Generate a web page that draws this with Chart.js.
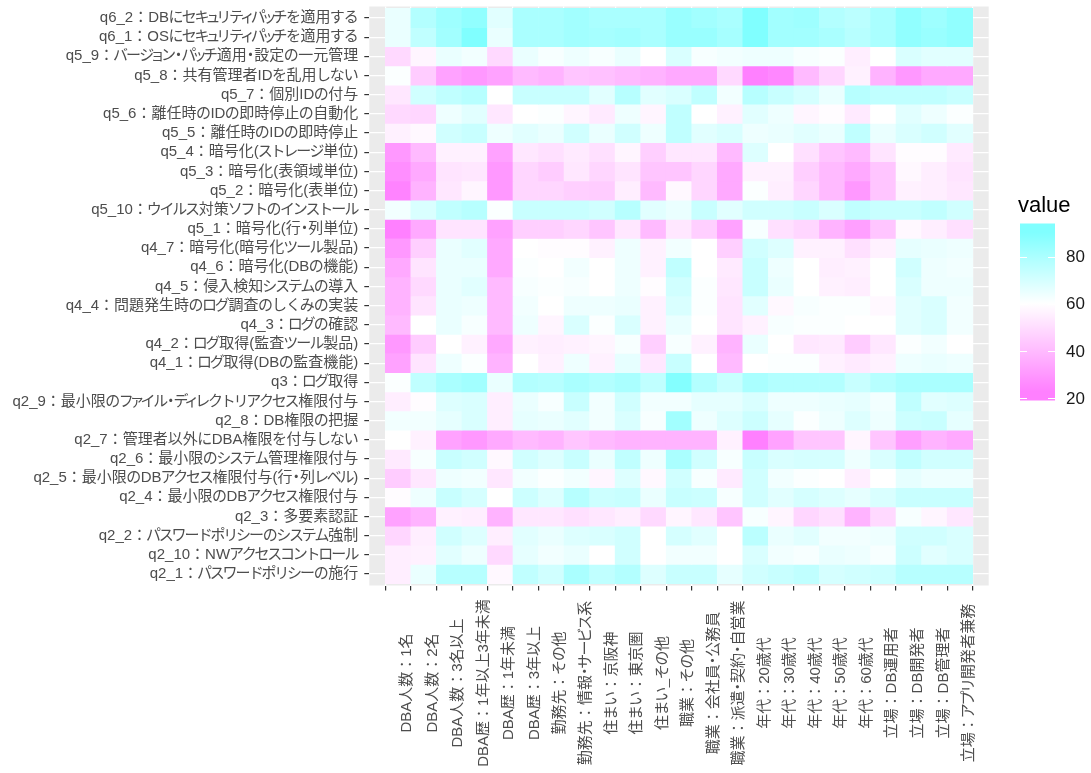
<!DOCTYPE html>
<html>
<head>
<meta charset="utf-8">
<script src="https://cdn.jsdelivr.net/npm/chart.js@4.4.1/dist/chart.umd.min.js"></script>
<style>
  html, body { margin: 0; padding: 0; background: #ffffff; }
  #wrap { width: 1091px; height: 773px; }
</style>
</head>
<body>
<div id="wrap"><canvas id="heat" width="1091" height="773"></canvas></div>
<script>
// Measures (rows, listed top to bottom as drawn)
const rowLabels = [
  "q6_2：DBにセキュリティパッチを適用する",
  "q6_1：OSにセキュリティパッチを適用する",
  "q5_9：バージョン・パッチ適用・設定の一元管理",
  "q5_8：共有管理者IDを乱用しない",
  "q5_7：個別IDの付与",
  "q5_6：離任時のIDの即時停止の自動化",
  "q5_5：離任時のIDの即時停止",
  "q5_4：暗号化(ストレージ単位)",
  "q5_3：暗号化(表領域単位)",
  "q5_2：暗号化(表単位)",
  "q5_10：ウイルス対策ソフトのインストール",
  "q5_1：暗号化(行・列単位)",
  "q4_7：暗号化(暗号化ツール製品)",
  "q4_6：暗号化(DBの機能)",
  "q4_5：侵入検知システムの導入",
  "q4_4：問題発生時のログ調査のしくみの実装",
  "q4_3：ログの確認",
  "q4_2：ログ取得(監査ツール製品)",
  "q4_1：ログ取得(DBの監査機能)",
  "q3：ログ取得",
  "q2_9：最小限のファイル・ディレクトリアクセス権限付与",
  "q2_8：DB権限の把握",
  "q2_7：管理者以外にDBA権限を付与しない",
  "q2_6：最小限のシステム管理権限付与",
  "q2_5：最小限のDBアクセス権限付与(行・列レベル)",
  "q2_4：最小限のDBアクセス権限付与",
  "q2_3：多要素認証",
  "q2_2：パスワードポリシーのシステム強制",
  "q2_10：NWアクセスコントロール",
  "q2_1：パスワードポリシーの施行"
];

// Respondent groups (columns)
const colLabels = [
  "DBA人数：1名", "DBA人数：2名", "DBA人数：3名以上",
  "DBA歴：1年以上3年未満", "DBA歴：1年未満", "DBA歴：3年以上",
  "勤務先：その他", "勤務先：情報・サービス系",
  "住まい：京阪神", "住まい：東京圏", "住まい_その他",
  "職業：その他", "職業：会社員・公務員", "職業：派遣・契約・自営業",
  "年代：20歳代", "年代：30歳代", "年代：40歳代", "年代：50歳代", "年代：60歳代",
  "立場：DB運用者", "立場：DB開発者", "立場：DB管理者", "立場：アプリ開発者兼務"
];

// Score per group, one array per measure
const q6_2  = [65,78,83,86,67,80,80,82,80,80,80,84, 82,80,90,82,83,78,76,80,86,83,86];
const q6_1  = [65,75,82,94,65,80,80,82,81,82,80,84, 84,81,93,82,82,80,77,80,86,84,86];
const q5_9  = [49,57,65,63,49,65,62,64,62,65,60,69, 62,63,64,64,62,61,55,60,69,67,67];
const q5_8  = [61,45,33,30,33,40,38,43,42,40,38,35, 35,49,21,25,40,48,56,38,30,35,35];
const q5_7  = [53,71,75,77,60,73,73,73,67,77,67,69, 75,63,77,73,70,65,77,75,75,75,73];
const q5_6  = [49,48,64,67,53,60,61,57,54,64,57,75, 60,56,67,64,57,59,54,60,67,64,61];
const q5_5  = [56,58,71,73,64,67,65,71,65,71,64,75, 67,69,64,65,67,65,75,65,69,71,67];
const q5_4  = [30,40,56,56,33,53,51,54,51,57,46,53, 53,40,68,60,51,43,40,52,59,59,54];
const q5_3  = [27,35,52,53,30,48,45,53,48,52,43,43, 48,35,56,56,46,40,35,43,58,55,52];
const q5_2  = [24,38,53,57,30,48,48,46,45,55,40,58, 48,35,61,55,48,40,30,43,56,55,53];
const q5_10 = [63,69,75,77,61,73,73,73,71,77,67,65, 73,67,71,71,73,69,75,73,73,75,71];
const q5_1  = [22,35,52,52,33,46,46,48,43,53,40,53, 46,33,62,51,48,38,32,43,58,55,51];
const q4_7  = [30,46,65,67,35,60,59,59,56,64,56,63, 60,46,71,68,56,56,51,56,66,65,64];
const q4_6  = [35,52,65,65,35,61,60,63,60,64,56,75, 60,54,73,64,60,55,56,60,71,64,63];
const q4_5  = [38,49,65,67,40,62,61,62,60,64,59,71, 61,53,73,65,60,56,55,60,69,64,64];
const q4_4  = [38,52,65,64,40,63,60,64,64,65,56,69, 61,52,67,58,62,61,61,58,67,69,63];
const q4_3  = [40,60,65,62,40,64,57,69,61,69,56,65, 60,52,56,62,61,61,60,60,67,69,63];
const q4_2  = [30,45,60,56,35,56,55,56,57,62,46,62, 56,38,65,60,53,54,45,53,61,63,60];
const q4_1  = [33,52,64,61,38,60,56,64,56,66,53,73, 60,40,60,61,61,56,54,56,64,65,64];
const q3    = [61,75,80,82,65,78,77,80,78,80,75,89, 78,73,80,78,78,78,73,77,80,80,80];
const q2_9  = [55,59,68,69,55,65,62,73,63,71,63,63, 66,66,69,64,64,65,66,63,75,67,68];
const q2_8  = [63,63,66,69,55,66,65,67,63,69,62,82, 64,68,72,66,61,64,68,64,72,73,66];
const q2_7  = [60,56,33,30,35,40,38,43,40,38,38,38, 38,56,19,33,43,43,57,43,32,38,35];
const q2_6  = [54,62,73,71,58,71,68,73,65,75,64,80, 71,62,73,69,70,70,64,69,75,71,71];
const q2_5  = [45,53,64,63,53,63,61,63,57,68,58,71, 62,54,71,63,61,60,55,60,66,64,64];
const q2_4  = [59,64,73,70,60,72,68,77,72,73,65,73, 72,62,71,67,70,68,66,69,73,73,73];
const q2_3  = [33,38,56,55,38,53,53,51,53,55,49,57, 53,43,62,57,48,51,38,49,62,57,53];
const q2_2  = [48,55,71,68,55,67,65,68,69,71,60,70, 67,60,76,65,67,63,63,64,71,71,69];
const q2_10 = [55,56,67,64,49,66,63,65,60,71,60,63, 63,60,69,63,62,65,64,62,72,67,69];
const q2_1  = [55,65,77,77,58,75,71,80,75,78,68,73, 73,66,71,73,75,70,71,72,77,77,77];

const rowValues = [
  q6_2, q6_1, q5_9, q5_8, q5_7, q5_6, q5_5, q5_4, q5_3, q5_2, q5_10, q5_1,
  q4_7, q4_6, q4_5, q4_4, q4_3, q4_2, q4_1, q3,
  q2_9, q2_8, q2_7, q2_6, q2_5, q2_4, q2_3, q2_2, q2_10, q2_1
];

// Legend breaks
const legendBreaks = [20, 40, 60, 80];

// Diverging fill: magenta below the midpoint, white at it, cyan above
const MID = 60;
const CYAN_SPAN = 30;
const MAGENTA_SPAN = 37;
function tileColour(v) {
  let r = 255, g = 255;
  if (v >= MID) {
    r = 255 - 127 * Math.min((v - MID) / CYAN_SPAN, 1);
  } else {
    g = 255 - 127 * Math.min((MID - v) / MAGENTA_SPAN, 1);
  }
  return `rgb(${Math.round(r)},${Math.round(g)},255)`;
}

const FONT = '"Liberation Sans", "Noto Sans CJK JP", sans-serif';
const AXIS_GREY = '#4D4D4D';
const PANEL_GREY = '#EBEBEB';
const AXIS_SIZE = 15;

const allValues = rowValues.flat();
const vMin = Math.min(...allValues);
const vMax = Math.max(...allValues);

// Proportional kana spacing (kanji stay full width)
const SMALL_KANA = 'ぁぃぅぇぉっゃゅょゎァィゥェォッャュョヮヵヶ';
function advanceOf(ctx, c, size) {
  const w = ctx.measureText(c).width;
  const u = c.codePointAt(0);
  let adv = w;
  if (c === '・') adv = 0.5 * size;
  else if (SMALL_KANA.includes(c)) adv = 0.6 * size;
  else if (c === 'ー') adv = 0.9 * size;
  else if (u >= 0x3041 && u <= 0x309F) adv = 0.93 * size;
  else if (u >= 0x30A0 && u <= 0x30FF) adv = 0.85 * size;
  return { c, w, adv };
}
function layoutLabel(ctx, text, size) {
  const glyphs = [...text].map(c => advanceOf(ctx, c, size));
  return { glyphs, total: glyphs.reduce((s, g) => s + g.adv, 0) };
}
function drawLabel(ctx, layout, x, y) {
  let cx = x;
  layout.glyphs.forEach(g => {
    ctx.fillText(g.c, cx + (g.adv - g.w) / 2, y);
    cx += g.adv;
  });
}

// Grey panel behind the tiles
const panelBackground = {
  id: 'panelBackground',
  beforeDraw(chart) {
    const { ctx, chartArea: a } = chart;
    ctx.save();
    ctx.fillStyle = PANEL_GREY;
    ctx.fillRect(a.left, a.top, a.right - a.left, a.bottom - a.top);
    ctx.restore();
  }
};

// Axis text for both axes
const axisText = {
  id: 'axisText',
  afterDraw(chart) {
    const { ctx } = chart;
    const xs = chart.scales.x, ys = chart.scales.y;
    ctx.save();
    ctx.font = `${AXIS_SIZE}px ${FONT}`;
    ctx.fillStyle = AXIS_GREY;
    ctx.textAlign = 'left';
    ctx.textBaseline = 'middle';

    // measures, right-aligned against the tick marks
    const right = ys.right - 11;
    rowLabels.forEach((t, i) => {
      const lay = layoutLabel(ctx, t, AXIS_SIZE);
      drawLabel(ctx, lay, right - lay.total, ys.getPixelForValue(i));
    });

    // groups, rotated and centred along their length
    colLabels.forEach((t, j) => {
      const lay = layoutLabel(ctx, t, AXIS_SIZE);
      ctx.save();
      ctx.translate(xs.getPixelForValue(j) + 9, xs.top + 97.5);
      ctx.rotate(-Math.PI / 2);
      drawLabel(ctx, lay, -lay.total / 2, 0);
      ctx.restore();
    });
    ctx.restore();
  }
};

// Colour bar legend on the right
const colourBar = {
  id: 'colourBar',
  afterDraw(chart) {
    const { ctx } = chart;
    const barX = 1020, barW = 35, barTop = 223.5, barBottom = 400.5;
    const yOf = v => barBottom - (v - vMin) / (vMax - vMin) * (barBottom - barTop);
    ctx.save();
    ctx.fillStyle = '#000000';
    ctx.font = `22px ${FONT}`;
    ctx.textAlign = 'left';
    ctx.textBaseline = 'alphabetic';
    ctx.fillText('value', 1018, 212);

    const grad = ctx.createLinearGradient(0, barBottom, 0, barTop);
    const steps = 40;
    for (let k = 0; k <= steps; k++) {
      const v = vMin + (vMax - vMin) * k / steps;
      grad.addColorStop(k / steps, tileColour(v));
    }
    ctx.fillStyle = grad;
    ctx.fillRect(barX, barTop, barW, barBottom - barTop);

    ctx.strokeStyle = '#FFFFFF';
    ctx.lineWidth = 1;
    ctx.font = `17px ${FONT}`;
    ctx.fillStyle = '#1A1A1A';
    ctx.textBaseline = 'middle';
    legendBreaks.forEach(b => {
      const y = Math.round(yOf(b)) + 0.5;
      ctx.beginPath();
      ctx.moveTo(barX, y); ctx.lineTo(barX + 7, y);
      ctx.moveTo(barX + barW - 7, y); ctx.lineTo(barX + barW, y);
      ctx.stroke();
      ctx.fillText(String(b), 1066, yOf(b) + 1);
    });
    ctx.restore();
  }
};

const datasets = rowLabels.map((label, i) => ({
  label,
  data: colLabels.map((_, j) => ({ x: j, y: [i - 0.5, i + 0.5] })),
  backgroundColor: rowValues[i].map(tileColour),
  borderWidth: 0,
  grouped: false,
  barPercentage: 1,
  categoryPercentage: 1
}));

new Chart(document.getElementById('heat'), {
  type: 'bar',
  data: { datasets },
  plugins: [panelBackground, axisText, colourBar],
  options: {
    responsive: false,
    animation: false,
    events: [],
    layout: { padding: { top: 6.5, right: 102.3, left: 0, bottom: 0 } },
    plugins: { legend: { display: false }, tooltip: { enabled: false } },
    scales: {
      x: {
        type: 'linear',
        min: -0.6,
        max: colLabels.length - 0.4,
        afterBuildTicks: s => { s.ticks = colLabels.map((_, j) => ({ value: j })); },
        afterFit: s => { s.height = 187.5; s.paddingLeft = 0; s.paddingRight = 0; },
        ticks: { display: false },
        grid: { color: '#FFFFFF', lineWidth: 1.2, tickColor: '#333333', tickLength: 5 },
        border: { display: false }
      },
      y: {
        type: 'linear',
        reverse: true,
        min: -0.6,
        max: rowLabels.length - 0.4,
        afterBuildTicks: s => { s.ticks = rowLabels.map((_, i) => ({ value: i })); },
        afterFit: s => { s.width = 369.3; s.paddingTop = 0; s.paddingBottom = 0; },
        ticks: { display: false },
        grid: { color: '#FFFFFF', lineWidth: 1.2, tickColor: '#333333', tickLength: 5 },
        border: { display: false }
      }
    }
  }
});
</script>
</body>
</html>
